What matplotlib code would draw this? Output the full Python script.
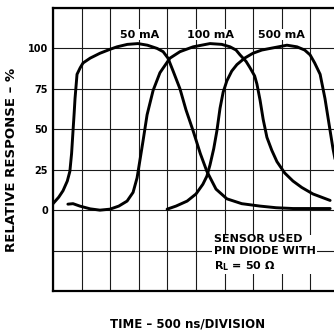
import numpy as np
import matplotlib.pyplot as plt

# time in divisions (500 ns each), response in %
t_50 = [0.0, 0.2, 0.35, 0.5, 0.59, 0.65, 0.70, 0.74, 0.77, 0.84, 0.95, 1.05, 1.3, 1.64, 2.0, 2.24,
        2.6, 2.97, 3.3, 3.64, 3.85, 4.02, 4.2, 4.44, 4.65, 4.9, 5.15, 5.38, 5.7, 6.08, 6.6,
        7.24, 7.8, 8.39, 9.0, 9.69]
r_50 = [4, 8, 12, 18, 24, 35, 49, 60, 69, 84, 88, 91, 94, 97, 99.5, 101,
        102.5, 103, 102, 100, 98, 94, 86, 75, 62, 49, 35, 24, 13, 7, 4,
        2.5, 1.5, 1, 1, 1]

t_100 = [0.52, 0.7, 0.94, 1.3, 1.64, 1.99, 2.3, 2.59, 2.8, 2.94, 3.05, 3.15, 3.29, 3.5, 3.74,
         4.09, 4.44, 4.9, 5.49, 5.9, 6.19, 6.4, 6.54, 6.75, 6.89, 7.05, 7.13, 7.24, 7.35,
         7.48, 7.65, 7.83, 8.1, 8.39, 8.7, 9.09, 9.69]
r_100 = [3.7, 4, 2.5, 0.8, 0, 0.6, 2.5, 5.6, 11, 20, 32, 43, 59, 74, 85,
         94, 98, 101, 103, 102.5, 101, 99, 96, 92, 88, 83, 78, 68, 56,
         45, 37, 30, 23, 18, 14, 10, 6]

t_500 = [3.99, 4.3, 4.69, 5.0, 5.24, 5.38, 5.49, 5.62, 5.73, 5.84, 5.95, 6.08, 6.25, 6.43, 6.7,
         6.99, 7.3, 7.59, 8.18, 8.53, 8.8, 8.99, 9.15, 9.34, 9.51, 9.69, 9.79, 9.9]
r_500 = [0.6, 2.5, 5.6, 10, 16, 21, 28, 38, 49, 63, 73, 80, 86, 90, 94,
         97, 99, 100, 102, 101, 99, 96, 91, 84, 69, 49, 38, 28]

curve_labels = ["50 mA", "100 mA", "500 mA"]
label_x = [3.04, 5.49, 7.97]
ytick_vals = [0, 25, 50, 75, 100]

plt.rcParams['font.family'] = ['DejaVu Sans']

fig = plt.figure(figsize=(3.34, 3.33), dpi=100)
ax = fig.add_axes([53 / 334, 42 / 333, 286 / 334, 283 / 333])

ax.set_xlim(0, 10)
ax.set_ylim(-50, 125)
ax.set_xticks(np.arange(0, 11, 1))
ax.set_yticks(np.arange(-50, 126, 25))
ax.set_xticklabels([])
ax.set_yticklabels([str(v) if v in ytick_vals else "" for v in np.arange(-50, 126, 25)],
                   fontsize=7, fontweight='bold')
ax.tick_params(length=0, pad=3.5)
ax.grid(True, color='#1a1a1a', linewidth=0.8)
for s in ax.spines.values():
    s.set_linewidth(1.6)
    s.set_color('black')

for t, r in [(t_50, r_50), (t_100, r_100), (t_500, r_500)]:
    ax.plot(t, r, color='black', linewidth=2.1, solid_joinstyle='round',
            solid_capstyle='round', zorder=3)

for lab, x in zip(curve_labels, label_x):
    ax.text(x, 108.5, lab, ha='center', va='center', fontsize=8, fontweight='bold',
            bbox=dict(facecolor='white', edgecolor='none', pad=0.5), zorder=4)

ax.text(5.62, -15, "SENSOR USED\nPIN DIODE WITH\nR$_\\mathregular{L}$ = 50 \u03a9",
        ha='left', va='top', fontsize=8, fontweight='bold', linespacing=1.25,
        bbox=dict(facecolor='white', edgecolor='none', pad=1.0), zorder=4)

fig.text(12 / 334, 1 - 160 / 333, "RELATIVE RESPONSE \u2013 %", rotation=90,
         ha='center', va='center', fontsize=9.5, fontweight='bold')
fig.text(188 / 334, 1 - 324 / 333, "TIME \u2013 500 ns/DIVISION",
         ha='center', va='center', fontsize=8.5, fontweight='bold')

fig.savefig("out.png", dpi=100)
